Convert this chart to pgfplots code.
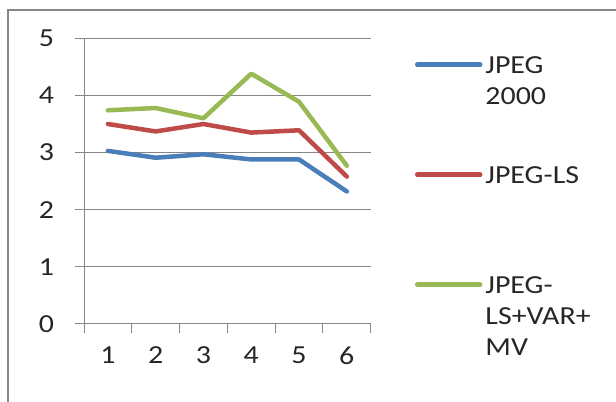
\documentclass[border=0pt]{standalone}
\usepackage{fontspec}
\setmainfont{Carlito}[FakeStretch=1.15]
\usepackage{pgfplots}
\pgfplotsset{compat=1.18}
\definecolor{cblue}{RGB}{74,126,187}
\definecolor{cred}{RGB}{190,75,72}
\definecolor{cgreen}{RGB}{152,185,84}
\definecolor{cgrid}{RGB}{134,134,134}
\newcommand{\bigf}{\fontsize{26bp}{31bp}\selectfont}
\begin{document}
\bigf
\begin{tikzpicture}
\useasboundingbox (0,0) rectangle (616bp,402bp);
\draw[cgrid, line width=1.2bp] (8bp,-5bp) -- (8bp,392bp) -- (620bp,392bp);
\begin{axis}[
  at={(84bp,78bp)}, anchor=south west,
  scale only axis, width=286.7bp, height=285.7bp,
  xmin=0.5, xmax=6.5, ymin=0, ymax=5,
  axis x line=bottom, axis y line=left,
  axis line style={-, cgrid, line width=1bp},
  tick align=outside,
  major tick length=9bp,
  tick style={cgrid, line width=1bp},
  ytick={0,1,2,3,4,5},
  ymajorgrids,
  grid style={cgrid, line width=1bp},
  xtick={0.5,1.5,2.5,3.5,4.5,5.5,6.5},
  xticklabels={},
  extra x ticks={1,2,3,4,5,6},
  extra x tick labels={1,2,3,4,5,6},
  extra x tick style={major tick length=0pt, grid=none},
  /pgf/number format/assume math mode=true,
  every tick label/.append style={font=\bigf, text=black!85},
  yticklabel style={xshift=-12bp},
  xticklabel style={yshift=-14bp},
  legend style={draw=none, fill=none, inner sep=0pt, outer sep=0pt,
    at={(axis description cs:1.1545,1.100)}, anchor=north west,
    font=\bigf, text=black!85,
    nodes={inner sep=0pt, text height=64bp, text depth=46bp},
    /tikz/column 1/.style={column sep=3bp},
    row sep=0pt},
  legend cell align=left,
  legend image code/.code={\draw[#1] (0bp,0bp) -- (63bp,0bp);},
  every axis plot/.append style={line width=4.5bp, line join=round, line cap=round},
]
\addplot[cblue] coordinates {(1,3.03) (2,2.91) (3,2.97) (4,2.88) (5,2.88) (6,2.32)};
\addlegendentry{\begin{tabular}[t]{@{}l@{}}JPEG\\2000\end{tabular}}
\addplot[cred] coordinates {(1,3.50) (2,3.37) (3,3.50) (4,3.35) (5,3.39) (6,2.58)};
\addlegendentry{\begin{tabular}[t]{@{}l@{}}JPEG-LS\end{tabular}}
\addplot[cgreen] coordinates {(1,3.74) (2,3.78) (3,3.60) (4,4.38) (5,3.89) (6,2.77)};
\addlegendentry{\begin{tabular}[t]{@{}l@{}}JPEG-\\LS+VAR+\\MV\end{tabular}}
\end{axis}
\end{tikzpicture}
\end{document}
